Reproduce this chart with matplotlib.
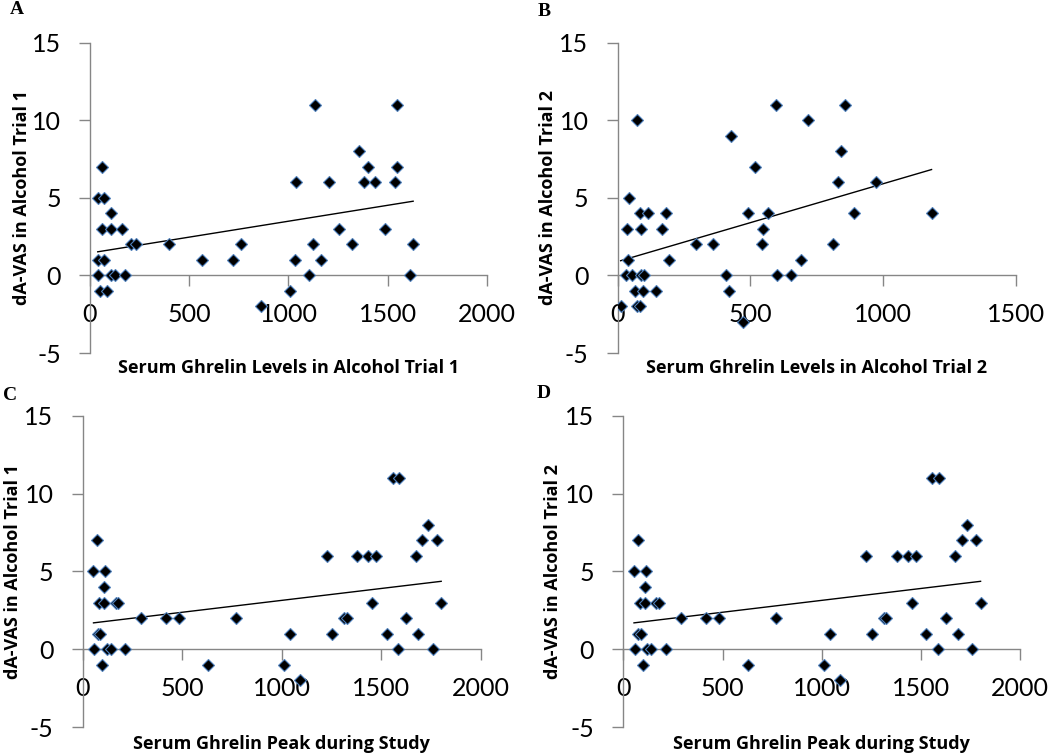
import matplotlib
matplotlib.use("Agg")
from matplotlib import pyplot as plt
import numpy as np

plt.rcParams["axes.unicode_minus"] = False

# Panel A: ghrelin in alcohol trial 1 vs dA-VAS trial 1
ghrelin_t1 = [39, 70, 59, 106, 62, 106, 163, 39, 70, 39, 106, 126, 176, 50, 84,
              205, 230, 398, 565, 718, 760, 861, 1010, 1032, 1040, 1104, 1121,
              1136, 1166, 1203, 1253, 1320, 1354, 1379, 1399, 1435, 1488, 1539,
              1547, 1547, 1611, 1628]
vas_t1 = [5, 5, 7, 4, 3, 3, 3, 1, 1, 0, 0, 0, 0, -1, -1,
          2, 2, 2, 1, 1, 2, -2, -1, 1, 6, 0, 2,
          11, 1, 6, 3, 2, 8, 6, 7, 6, 3, 6,
          7, 11, 0, 2]

# Panel B: ghrelin in alcohol trial 2 vs dA-VAS trial 2
ghrelin_t2 = [11, 72, 84, 30, 55, 88, 100, 40, 34, 43, 74, 84, 113, 88, 65, 94,
              144, 166, 181, 193, 295, 358, 408, 420, 425, 471, 492, 517, 542,
              548, 567, 596, 601, 651, 690, 718, 809, 828, 841, 856, 890, 971,
              1182]
vas_t2 = [-2, -2, -2, 0, 0, 0, 0, 1, 3, 5, 10, 4, 4, 3, -1, -1,
          -1, 3, 4, 1, 2, 2, 0, -1, 9, -3, 4, 7, 2,
          3, 4, 11, 0, 0, 1, 10, 2, 6, 8, 11, 4, 6,
          4]

# Panels C and D: peak ghrelin during study
ghrelin_peak = [54, 74, 57, 75, 87, 84, 107, 112, 109, 99, 121, 141, 167, 179,
                213, 291, 419, 484, 628, 770, 1011, 1041, 1091, 1225, 1254, 1314,
                1326, 1379, 1435, 1455, 1473, 1527, 1557, 1589, 1585, 1624, 1672,
                1686, 1706, 1733, 1758, 1778, 1800]
vas_peak_t1 = [5, 7, 0, 1, 1, 3, 3, 5, 4, -1, 0, 0, 3, 3,
               0, 2, 2, 2, -1, 2, -1, 1, -2, 6, 1, 2,
               2, 6, 6, 3, 6, 1, 11, 11, 0, 2, 6,
               1, 7, 8, 0, 7, 3]
vas_peak_t2 = [5, 7, 0, 1, 1, 3, 3, 5, 4, -1, 0, 0, 3, 3,
               0, 2, 2, 2, -1, 2, -1, 1, -2, 6, 1, 2,
               2, 6, 6, 3, 6, 1, 11, 11, 0, 2, 6,
               1, 7, 8, 0, 7, 3]

panels = [
    ("A", ghrelin_t1, vas_t1, 2000, "Serum Ghrelin Levels in Alcohol Trial 1", "dA-VAS in Alcohol Trial 1"),
    ("B", ghrelin_t2, vas_t2, 1500, "Serum Ghrelin Levels in Alcohol Trial 2", "dA-VAS in Alcohol Trial 2"),
    ("C", ghrelin_peak, vas_peak_t1, 2000, "Serum Ghrelin Peak during Study", "dA-VAS in Alcohol Trial 1"),
    ("D", ghrelin_peak, vas_peak_t2, 2000, "Serum Ghrelin Peak during Study", "dA-VAS in Alcohol Trial 2"),
]

# axes rectangles in figure fractions (left, bottom, width, height)
rects = [
    (0.0857, 0.5318, 0.3781, 0.4115),
    (0.5883, 0.5318, 0.3793, 0.4115),
    (0.0788, 0.0358, 0.3793, 0.4125),
    (0.5936, 0.0358, 0.3781, 0.4125),
]
letter_pos = [(10, 9), (538, 11), (3, 396), (537, 393)]
ylab_x = [-0.170, -0.175, -0.175, -0.177]
xlab_y = [-0.048, -0.048, -0.055, -0.055]

axis_gray = "#868686"

fig = plt.figure(figsize=(10.5, 7.54), dpi=100)

for i, (letter, x, y, xmax, xlab, ylab) in enumerate(panels):
    ax = fig.add_axes(rects[i])
    x = np.array(x, dtype=float)
    y = np.array(y, dtype=float)

    ax.plot(x, y, linestyle="none", marker="D", markersize=6.2,
            markerfacecolor="black", markeredgecolor="#4f81bd",
            markeredgewidth=0.8, zorder=3)

    # linear trend line over the data range
    slope, icpt = np.polyfit(x, y, 1)
    xs = np.array([x.min(), x.max()])
    ax.plot(xs, slope * xs + icpt, color="black", linewidth=1.0, zorder=2)

    ax.set_xlim(0, xmax)
    ax.set_ylim(-5, 15)
    ax.set_xticks(np.arange(0, xmax + 1, 500))
    ax.set_yticks(np.arange(-5, 16, 5))

    for s in ["top", "right"]:
        ax.spines[s].set_visible(False)
    ax.spines["bottom"].set_position(("data", 0))
    for s in ["left", "bottom"]:
        ax.spines[s].set_color(axis_gray)
        ax.spines[s].set_linewidth(1.0)
    ax.tick_params(axis="both", colors=axis_gray, length=8, width=1.0,
                   direction="out", labelcolor="black", labelsize=18)
    ax.tick_params(axis="x", pad=12)
    ax.tick_params(axis="y", pad=13)
    for t in ax.get_xticklabels() + ax.get_yticklabels():
        t.set_fontfamily("Lato")
    ax.patch.set_alpha(0)

    ax.text(0.5, xlab_y[i], xlab, transform=ax.transAxes, ha="center", va="center",
            fontsize=13, fontweight="bold", fontfamily="Open Sans")
    ax.text(ylab_x[i], 0.5, ylab, transform=ax.transAxes, ha="center", va="center",
            rotation=90, fontsize=13, fontweight="bold", fontfamily="Open Sans")

    lx, ly = letter_pos[i]
    fig.text(lx / 1050, 1 - ly / 754, letter, ha="left", va="center",
             fontsize=14, fontweight="bold", fontfamily="Liberation Serif")

fig.savefig("out.png", dpi=100)
